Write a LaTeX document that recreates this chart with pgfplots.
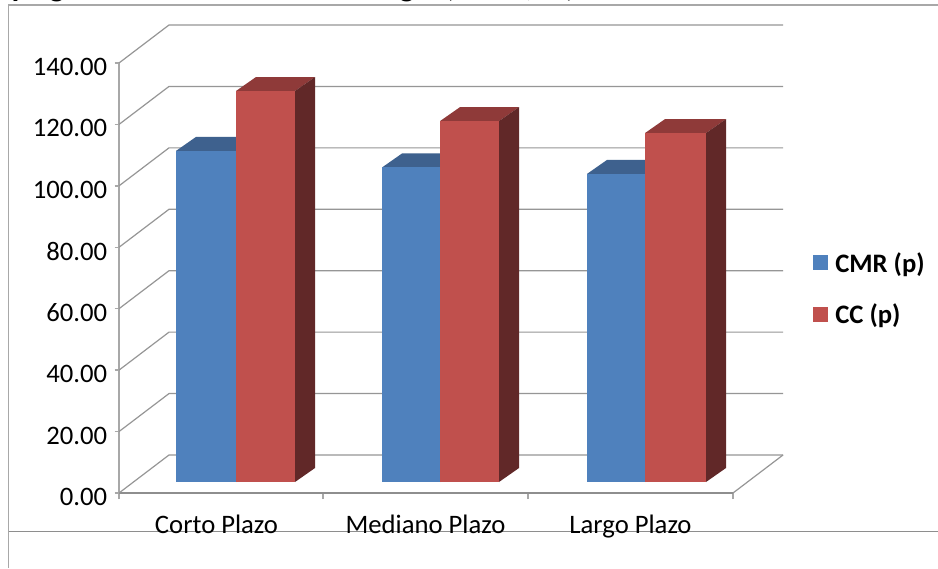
\documentclass[border=0pt]{standalone}
\usepackage{pgfplots}
\pgfplotsset{compat=1.18}
\usepackage{fontspec}
\setmainfont{Carlito}
\definecolor{blueFront}{HTML}{4F81BD}
\definecolor{blueTop}{HTML}{3E618E}
\definecolor{redFront}{HTML}{C0504D}
\definecolor{redTop}{HTML}{8F3A39}
\definecolor{redSide}{HTML}{612828}
\definecolor{gridLine}{HTML}{969696}
\definecolor{spine}{HTML}{A8A8A8}
\definecolor{frameLine}{HTML}{8E8E8E}
\newlength{\px}
\setlength{\px}{0.75pt}

% Value-axis scale: 140 units span 430 px
\pgfmathsetmacro{\unitpx}{430/140}
% Bars stand on a floor 11 px above the front edge of the axis
\pgfmathsetmacro{\floor}{11/\unitpx}
\pgfmathsetmacro{\depthy}{14/\unitpx}
\pgfmathsetmacro{\wally}{38/\unitpx}

% One box: left edge, right edge, value, front, top and side colours
\newcommand{\threedbar}[6]{%
  \pgfmathsetmacro{\ytop}{\floor+#3}%
  \pgfmathsetmacro{\ytopb}{\ytop+\depthy}%
  \pgfmathsetmacro{\ybotb}{\floor+\depthy}%
  \pgfmathsetmacro{\xlb}{#1+20}%
  \pgfmathsetmacro{\xrb}{#2+20}%
  \addplot[draw=none,fill=#5,forget plot] coordinates
    {(#1,\ytop) (\xlb,\ytopb) (\xrb,\ytopb) (#2,\ytop)} -- cycle;
  \addplot[draw=none,fill=#6,forget plot] coordinates
    {(#2,\floor) (\xrb,\ybotb) (\xrb,\ytopb) (#2,\ytop)} -- cycle;
  \addplot[draw=none,fill=#4,forget plot] coordinates
    {(#1,\floor) (#2,\floor) (#2,\ytop) (#1,\ytop)} -- cycle;
}
% One gridline: runs up the side wall, then along the back wall
\newcommand{\wallgrid}[1]{%
  \pgfmathsetmacro{\yb}{#1+\wally}%
  \addplot[gridLine,line width=0.9pt,forget plot] coordinates
    {(119,#1) (169,\yb) (783,\yb)};
}
% A heading glyph placed by its left edge
\newcommand{\headglyph}[2]{%
  \node[anchor=base west,font=\fontsize{24}{24}\selectfont\bfseries,inner sep=0pt,black]
    at (#1\px,571.5\px) {#2};
}

\begin{document}
\begin{tikzpicture}
\path[use as bounding box,clip] (0,0) rectangle (938\px,568\px);
\fill[white] (0,0) rectangle (938\px,568\px);

% Top of the heading, cut off by the page edge
\headglyph{10}{y}\headglyph{49}{g}\headglyph{399}{g}
\headglyph{444}{(}\headglyph{525}{,}\headglyph{565}{)}

% Chart frame
\draw[spine,line width=1.1pt] (8.5\px,0) -- (8.5\px,563\px) -- (938\px,563\px);
\draw[frameLine,line width=1pt] (8.5\px,36.5\px) -- (938\px,36.5\px);

\begin{axis}[
  at={(119\px,75\px)},anchor=south west,
  scale only axis,
  width=614\px,height=430\px,
  clip=false,
  xmin=119,xmax=733,ymin=0,ymax=140,
  axis x line*=bottom,axis y line*=left,
  x axis line style={draw=frameLine,line width=1pt,-},
  y axis line style={draw=spine,line width=1.2pt,-},
  xtick={119,323,528,733},xticklabels={},
  extra x ticks={216.5,425.5,630.5},
  extra x tick labels={Corto Plazo,Mediano Plazo,Largo Plazo},
  extra x tick style={
    x tick style={draw=none},
    tick label style={font=\fontsize{20}{20}\selectfont,anchor=base,yshift=-27pt}},
  ytick={0,20,...,140},
  yticklabel style={font=\fontsize{20}{20}\selectfont,xshift=-2pt,yshift=-3pt},
  y tick label style={/pgf/number format/.cd,fixed,fixed zerofill,precision=2,assume math mode=true},
  tick align=outside,
  major tick length=4.5\px,
  x tick style={draw=spine,line width=1pt,/pgfplots/major tick length=6\px},
  y tick style={draw=spine,line width=1pt},
]
% Side wall and back wall rules
\wallgrid{0}\wallgrid{20}\wallgrid{40}\wallgrid{60}
\wallgrid{80}\wallgrid{100}\wallgrid{120}\wallgrid{140}
% Floor edge on the right
\addplot[gridLine,line width=0.9pt,forget plot] coordinates {(733,0) (783,12.37)};

% Corto Plazo
\threedbar{176}{236}{107.8}{blueFront}{blueTop}{blueTop}
\threedbar{236}{295}{127.3}{redFront}{redTop}{redSide}
% Mediano Plazo
\threedbar{382}{440}{102.4}{blueFront}{blueTop}{blueTop}
\threedbar{440}{499}{117.5}{redFront}{redTop}{redSide}
% Largo Plazo
\threedbar{587}{645}{100.3}{blueFront}{blueTop}{blueTop}
\threedbar{645}{706}{113.6}{redFront}{redTop}{redSide}
\end{axis}

% Legend
\fill[blueFront] (813\px,298\px) rectangle (828\px,313\px);
\fill[redFront] (813\px,246\px) rectangle (828\px,261\px);
\node[anchor=base west,inner sep=0pt,font=\fontsize{20}{20}\selectfont\bfseries] at (835\px,295\px) {CMR (p)};
\node[anchor=base west,inner sep=0pt,font=\fontsize{20}{20}\selectfont\bfseries] at (835\px,244\px) {CC (p)};
\end{tikzpicture}
\end{document}
